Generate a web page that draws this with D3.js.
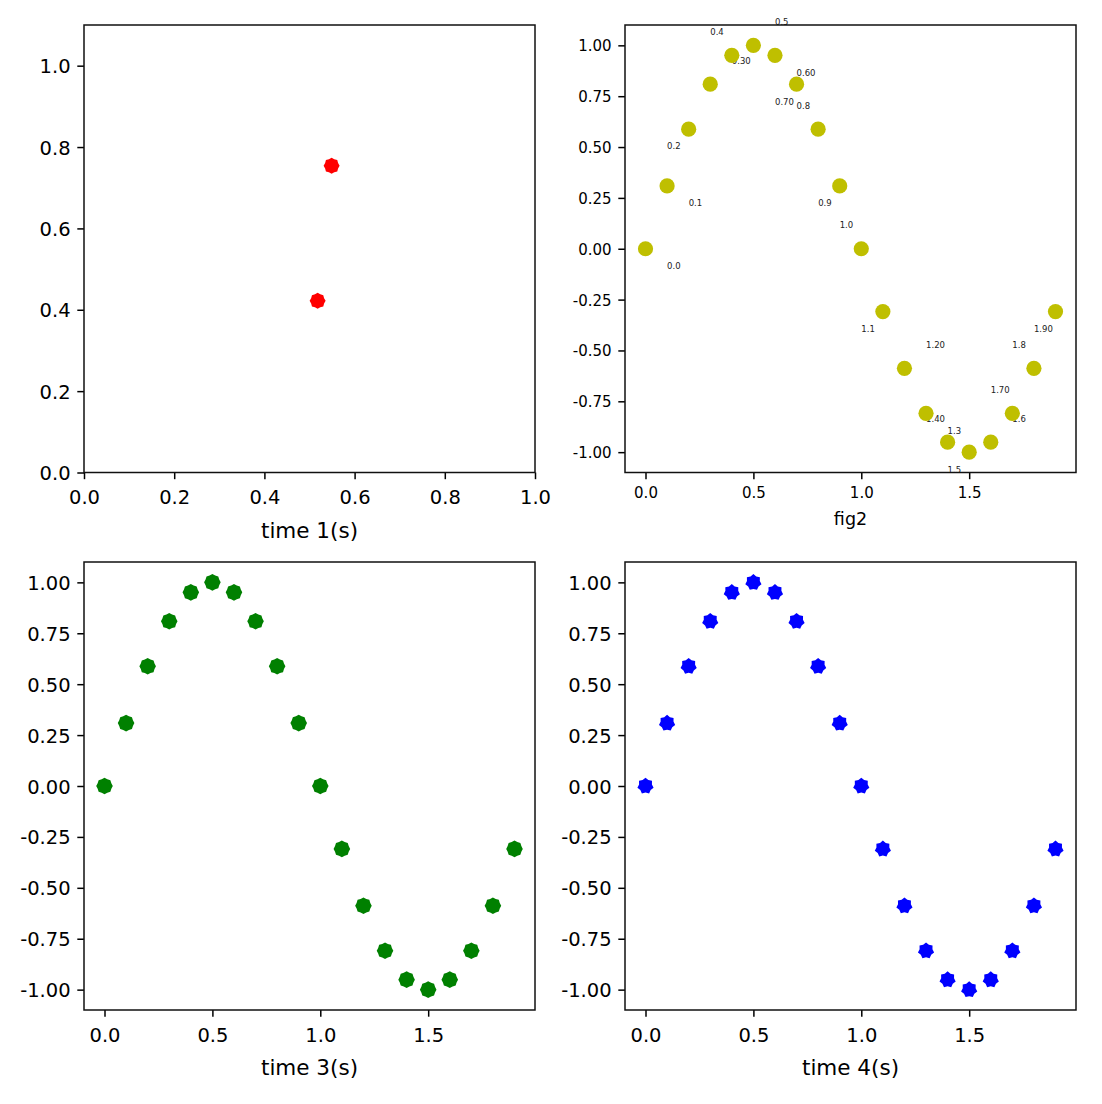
<!DOCTYPE html>
<html>
<head>
<meta charset="utf-8">
<script src="https://cdn.jsdelivr.net/npm/d3@7"></script>
<style>
  html, body { margin: 0; padding: 0; background: #fff; }
  svg { display: block; }
  text { font-family: "DejaVu Sans", sans-serif; fill: #000; }
</style>
</head>
<body>
<svg id="chart" width="1102" height="1104"></svg>
<script>
// ---- data ----
const redX = [0.518, 0.549];
const redY = [0.422, 0.754];

const waveX = [0.0, 0.1, 0.2, 0.3, 0.4, 0.5, 0.6, 0.7, 0.8, 0.9,
               1.0, 1.1, 1.2, 1.3, 1.4, 1.5, 1.6, 1.7, 1.8, 1.9];
const waveY = [0.000, 0.309, 0.588, 0.809, 0.951, 1.000, 0.951, 0.809, 0.588, 0.309,
               0.000, -0.309, -0.588, -0.809, -0.951, -1.000, -0.951, -0.809, -0.588, -0.309];

// annotation texts and their anchor (data coords) in the "fig2" panel
const annText = ["0.0", "0.1", "0.2", "0.30", "0.4", "0.5", "0.60", "0.70", "0.8", "0.9",
                 "1.0", "1.1", "1.20", "1.3", "1.40", "1.5", "1.6", "1.70", "1.8", "1.90"];
const annX = [0.1, 0.2, 0.1, 0.4, 0.3, 0.6, 0.7, 0.6, 0.7, 0.8,
              0.9, 1.0, 1.3, 1.4, 1.3, 1.4, 1.7, 1.6, 1.7, 1.8];
const annY = [-0.100, 0.209, 0.488, 0.909, 1.051, 1.100, 0.851, 0.709, 0.688, 0.209,
              0.100, -0.409, -0.488, -0.909, -0.851, -1.100, -0.851, -0.709, -0.488, -0.409];

const tlXTicks = [0.0, 0.2, 0.4, 0.6, 0.8, 1.0];
const tlYTicks = [0.0, 0.2, 0.4, 0.6, 0.8, 1.0];
const waveXTicks = [0.0, 0.5, 1.0, 1.5];
const waveYTicks = [-1.0, -0.75, -0.5, -0.25, 0.0, 0.25, 0.5, 0.75, 1.0];

const xLabels = ["time 1(s)", "fig2", "time 3(s)", "time 4(s)"];

// ---- drawing ----
const svg = d3.select("#chart");

function jagged(r1, r2, n) {
  const pts = [];
  for (let i = 0; i < 2 * n; i++) {
    const a = Math.PI * i / n - Math.PI / 2;
    const r = i % 2 === 0 ? r1 : r2;
    pts.push([r * Math.cos(a), r * Math.sin(a)]);
  }
  return "M" + pts.map(p => p[0].toFixed(2) + "," + p[1].toFixed(2)).join("L") + "Z";
}

function panel(opt) {
  const g = svg.append("g");
  const x = d3.scaleLinear().domain(opt.xdom).range([opt.left, opt.right]);
  const y = d3.scaleLinear().domain(opt.ydom).range([opt.bottom, opt.top]);
  const tickLen = 6.7, pad = 6.7;

  const xa = d3.axisBottom(x).tickValues(opt.xticks).tickSize(tickLen).tickPadding(pad)
    .tickFormat(opt.xfmt);
  const gx = g.append("g").attr("transform", `translate(0,${opt.bottom})`).call(xa);
  gx.select(".domain").remove();
  gx.selectAll(".tick line").attr("stroke", "#000").attr("stroke-width", 1.5);
  gx.selectAll(".tick text").attr("font-size", opt.tickFs).attr("dy", null)
    .attr("y", opt.xTickBase).attr("font-family", "DejaVu Sans").attr("fill", "#000");

  const ya = d3.axisLeft(y).tickValues(opt.yticks).tickSize(tickLen).tickPadding(pad)
    .tickFormat(opt.yfmt);
  const gy = g.append("g").attr("transform", `translate(${opt.left},0)`).call(ya);
  gy.select(".domain").remove();
  gy.selectAll(".tick line").attr("stroke", "#000").attr("stroke-width", 1.5);
  gy.selectAll(".tick text").attr("font-size", opt.tickFs).attr("dy", "0.36em")
    .attr("font-family", "DejaVu Sans").attr("fill", "#000");

  if (opt.ann) {
    g.append("g").selectAll("text").data(opt.ann.t).join("text")
      .attr("x", (d, i) => x(opt.ann.x[i]))
      .attr("y", (d, i) => y(opt.ann.y[i]))
      .attr("font-size", 8.5)
      .style("fill", "#222")
      .text(d => d);
  }
  g.append("g").selectAll("path").data(opt.xs).join("path")
    .attr("transform", (d, i) => `translate(${x(d)},${y(opt.ys[i])})`)
    .attr("d", opt.marker)
    .attr("fill", opt.color);

  g.append("rect").attr("x", opt.left).attr("y", opt.top)
    .attr("width", opt.right - opt.left).attr("height", opt.bottom - opt.top)
    .attr("fill", "none").attr("stroke", "#111").attr("stroke-width", 1.5);

  g.append("text").attr("x", (opt.left + opt.right) / 2).attr("y", opt.labelBase)
    .attr("text-anchor", "middle").attr("font-size", opt.labelFs).text(opt.label);
}

const hy = f => v => f(v).replace("\u2212", "-");
const f1 = hy(d3.format(".1f"));
const f2 = hy(d3.format(".2f"));
const circ = d3.symbol().type(d3.symbolCircle).size(Math.PI * 7.6 * 7.6)();

panel({
  left: 84, right: 535, top: 25, bottom: 472.5,
  xdom: [0, 1], ydom: [0, 1.1], xticks: tlXTicks, yticks: tlYTicks,
  xfmt: f1, yfmt: f1, tickFs: 19.5, xTickBase: 31.5,
  xs: redX, ys: redY, color: "#ff0000", marker: jagged(8.0, 7.0, 8),
  label: xLabels[0], labelFs: 21.5, labelBase: 538
});

panel({
  left: 625, right: 1076, top: 25, bottom: 472.5,
  xdom: [-0.095, 1.995], ydom: [-1.1, 1.1], xticks: waveXTicks, yticks: waveYTicks,
  xfmt: f1, yfmt: f2, tickFs: 15, xTickBase: 25.5,
  xs: waveX, ys: waveY, color: "#bfbf00", marker: circ,
  ann: { t: annText, x: annX, y: annY },
  label: xLabels[1], labelFs: 17.5, labelBase: 525
});

panel({
  left: 84, right: 535, top: 562, bottom: 1010,
  xdom: [-0.095, 1.995], ydom: [-1.1, 1.1], xticks: waveXTicks, yticks: waveYTicks,
  xfmt: f1, yfmt: f2, tickFs: 19.5, xTickBase: 32,
  xs: waveX, ys: waveY, color: "#008000", marker: jagged(8.3, 7.4, 8),
  label: xLabels[2], labelFs: 21.5, labelBase: 1075
});

panel({
  left: 625, right: 1076, top: 562, bottom: 1010,
  xdom: [-0.095, 1.995], ydom: [-1.1, 1.1], xticks: waveXTicks, yticks: waveYTicks,
  xfmt: f1, yfmt: f2, tickFs: 19.5, xTickBase: 32,
  xs: waveX, ys: waveY, color: "#0000ff", marker: jagged(8.3, 6.6, 7),
  label: xLabels[3], labelFs: 21.5, labelBase: 1075
});
</script>
</body>
</html>
